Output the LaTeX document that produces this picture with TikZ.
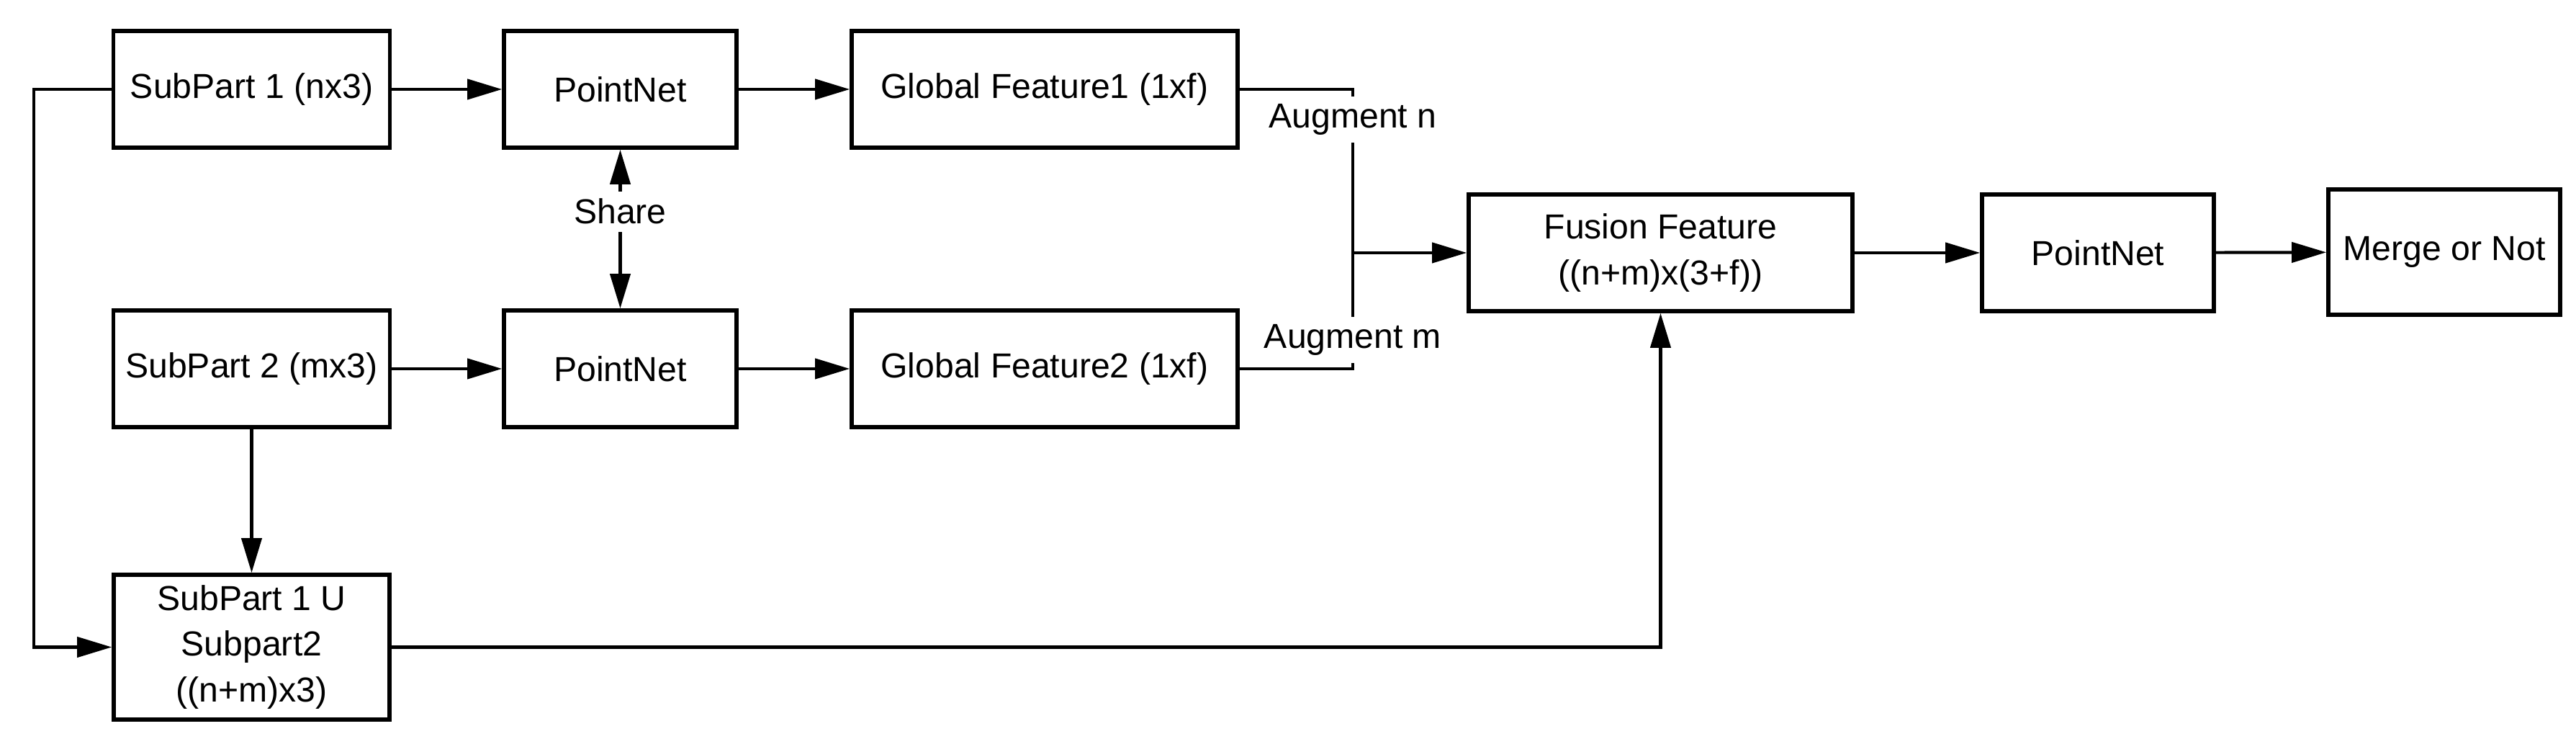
\documentclass[tikz,border=0pt]{standalone}
\usepackage{fontspec}
\setmainfont{Liberation Sans}
\usetikzlibrary{arrows.meta}

\tikzset{
  box/.style={draw,line width=1.6pt,align=center,inner sep=2pt},
  arr/.style={line width=1.2pt,-{Triangle[length=0.48cm,width=0.28cm]}},
  lnk/.style={line width=1.2pt},
  tag/.style={fill=white,inner sep=3pt}
}

\begin{document}
\begin{tikzpicture}[x=1cm,y=1cm,font=\fontsize{13.7}{18}\selectfont]
\useasboundingbox (0,0) rectangle (35.78,10.26);
% boxes: x/y/width/height/name/text
\foreach \x/\y/\w/\h/\n/\t in {
  3.495/9.02/3.84/1.62/sp1/{SubPart 1 (nx3)},
  8.615/9.02/3.23/1.62/pn1/{PointNet},
  14.51/9.02/5.36/1.62/gf1/{Global Feature1 (1xf)},
  3.495/5.14/3.84/1.62/sp2/{SubPart 2 (mx3)},
  8.615/5.14/3.23/1.62/pn2/{PointNet},
  14.51/5.14/5.36/1.62/gf2/{Global Feature2 (1xf)},
  3.495/1.275/3.83/2.01/un/{SubPart 1 U\\Subpart2\\((n+m)x3)},
  23.065/6.75/5.33/1.62/fu/{Fusion Feature\\((n+m)x(3+f))},
  29.14/6.75/3.22/1.62/pn3/{PointNet},
  33.95/6.76/3.22/1.74/mn/{Merge or Not}}{
  \node[box,minimum width=\w cm,minimum height=\h cm] (\n) at (\x,\y) {\t};}
\coordinate (jn) at (18.79,6.75);
\coordinate (lft) at (0.47,9.02);
% top and bottom branch
\draw[arr] (sp1) -- (pn1);
\draw[arr] (pn1) -- (gf1);
\draw[arr] (sp2) -- (pn2);
\draw[arr] (pn2) -- (gf2);
\draw[line width=1.2pt,{Triangle[length=0.48cm,width=0.28cm]}-{Triangle[length=0.48cm,width=0.28cm]}] (pn1) -- node[tag,pos=0.39] {Share} (pn2);
\draw[lnk] (gf1.east) -- (jn |- gf1.east) -- node[tag,pos=0.185] {Augment n} (jn);
\draw[lnk] (gf2.east) -- (jn |- gf2.east) -- node[tag,pos=0.25] {Augment m} (jn);
\draw[arr] (jn) -- (fu);
\draw[arr] (fu) -- (pn3);
\draw[arr] (pn3) -- (mn);
% union of the two parts
\draw[arr] (sp1.west) -- (lft) -- (lft |- un.west) -- (un.west);
\draw[arr] (sp2) -- (un);
\draw[arr] (un.east) -- (fu.south |- un.east) -- (fu.south);
\end{tikzpicture}
\end{document}
